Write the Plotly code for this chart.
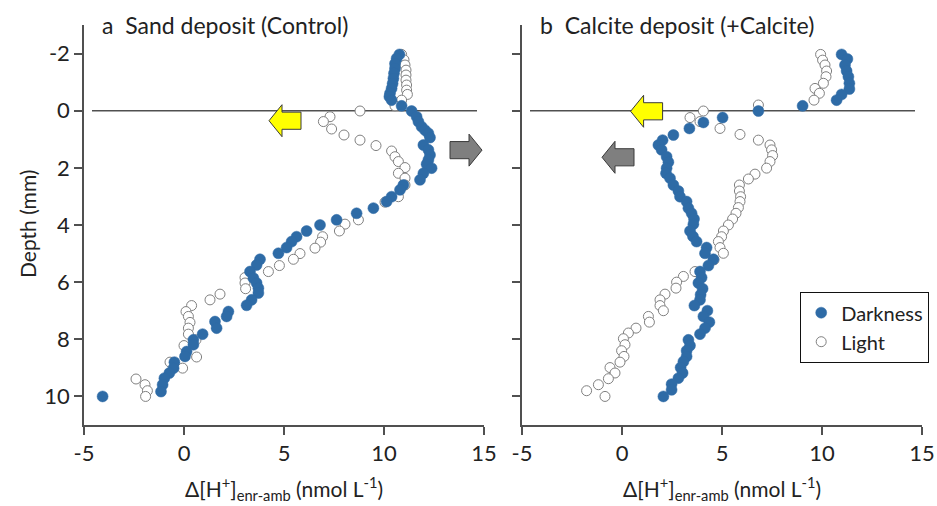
import plotly.graph_objects as go

# ---------------- data (x = Δ[H+] enr-amb, nmol/L ; depth in mm) ----------------
sand_dark_x = [10.77, 10.63, 10.55, 10.55, 10.5, 10.47, 10.43, 10.38, 10.3, 10.27, 10.38, 10.88, 11.38, 11.63,
               11.72, 11.88, 12.05, 12.22, 12.3, 11.97, 12.22, 12.3, 12.22, 12.13, 12.38, 11.97, 11.8, 10.97,
               10.8, 10.38, 10.13, 9.47, 8.63, 7.63, 6.8, 6.13, 5.63, 5.38, 5.13, 4.72, 3.8, 3.63, 3.3, 3.47,
               3.63, 3.72, 3.72, 3.38, 3.13, 2.22, 2.13, 1.55, 1.63, 0.93, 0.47, 0.47, 0.13, 0.05, -0.48,
               -0.52, -0.73, -0.98, -1.07, -1.15, -4.07]
sand_dark_d = [-1.97, -1.83, -1.65, -1.48, -1.31, -1.13, -0.95, -0.78, -0.61, -0.49, -0.37, -0.17, 0.01, 0.21,
               0.38, 0.56, 0.68, 0.79, 0.94, 1.2, 1.37, 1.55, 1.72, 1.87, 2.01, 2.19, 2.42, 2.6,
               2.77, 3.01, 3.18, 3.41, 3.59, 3.82, 4.0, 4.21, 4.41, 4.58, 4.79, 4.99, 5.2, 5.4, 5.63, 5.86,
               6.03, 6.21, 6.38, 6.62, 6.81, 7.03, 7.2, 7.38, 7.61, 7.82, 8.02, 8.19, 8.43, 8.6, 8.8,
               9.01, 9.18, 9.36, 9.59, 9.83, 10.0]

sand_light_x = [10.88, 11.0, 11.05, 11.1, 11.1, 11.1, 11.13, 11.13, 11.17, 10.88, 10.55, 8.8, 7.3, 6.97, 7.38,
                8.0, 8.8, 9.6, 10.38, 10.55, 10.72, 11.05, 10.72, 11.05, 11.05, 10.72, 10.05, 8.72, 8.05,
                7.77, 6.93, 6.83, 6.55, 5.8, 5.47, 4.77, 4.22, 3.05, 3.05, 3.08, 1.8, 1.3, 0.38, 0.1, 0.22,
                0.3, 0.22, 0.22, 0.6, 0.0, 0.63, -0.7, -0.07, -2.4, -1.95, -1.83, -1.92]
sand_light_d = [-1.97, -1.78, -1.6, -1.42, -1.25, -1.07, -0.9, -0.72, -0.57, -0.37, -0.17, 0.01, 0.21, 0.38, 0.64,
                0.85, 1.03, 1.22, 1.41, 1.61, 1.78, 1.99, 2.19, 2.36, 2.6, 3.01, 3.2, 3.82, 3.97,
                4.21, 4.41, 4.6, 4.81, 5.0, 5.2, 5.42, 5.63, 5.84, 6.03, 6.23, 6.42, 6.62, 6.82, 7.03, 7.2,
                7.41, 7.61, 7.82, 8.02, 8.22, 8.62, 8.8, 9.01, 9.39, 9.59, 9.8, 10.0]

calc_dark_x = [10.98, 11.27, 11.15, 11.23, 11.32, 11.37, 11.37, 10.98, 10.73, 9.03, 6.82, 5.03, 4.07, 3.37,
               2.57, 2.03, 1.82, 1.98, 2.23, 2.32, 2.23, 2.2, 2.4, 2.57, 2.82, 2.9, 3.23, 3.32, 3.48, 3.6,
               3.57, 3.4, 3.55, 3.73, 4.23, 4.15, 4.57, 4.32, 3.9, 3.98, 3.82, 4.03, 3.93, 3.9, 3.62, 4.27,
               4.07, 4.37, 4.15, 3.9, 3.32, 3.4, 3.23, 3.23, 3.07, 2.93, 3.03, 2.82, 2.48, 2.48, 2.07]
calc_dark_d = [-1.97, -1.81, -1.6, -1.39, -1.19, -0.96, -0.76, -0.57, -0.37, -0.17, 0.01, 0.24, 0.41, 0.62,
               0.85, 1.03, 1.2, 1.37, 1.61, 1.8, 2.01, 2.19, 2.36, 2.6, 2.81, 3.01, 3.18, 3.41, 3.59, 3.79,
               3.97, 4.21, 4.4, 4.58, 4.79, 4.99, 5.2, 5.42, 5.63, 5.84, 6.03, 6.23, 6.44, 6.62, 6.82, 7.0,
               7.2, 7.4, 7.61, 7.82, 8.02, 8.22, 8.4, 8.6, 8.78, 8.99, 9.18, 9.36, 9.57, 9.77, 10.0]

calc_light_x = [9.93, 10.03, 10.15, 10.23, 10.2, 10.07, 9.65, 9.87, 9.6, 6.82, 4.07, 3.4, 3.9, 4.9, 5.9, 6.82,
                7.4, 7.48, 7.53, 7.4, 7.23, 6.65, 6.32, 5.87, 5.87, 5.93, 5.9, 5.82, 5.7, 5.53, 5.32, 5.07,
                4.98, 4.82, 4.9, 5.07, 4.6, 3.65, 3.07, 2.73, 2.7, 2.15, 1.9, 1.9, 2.07, 1.32, 1.37, 0.7,
                0.32, 0.07, 0.15, -0.02, 0.1, -0.1, -0.6, -0.35, -0.68, -1.18, -1.77, -0.85]
calc_light_d = [-1.97, -1.77, -1.6, -1.39, -1.19, -0.96, -0.78, -0.61, -0.37, -0.2, 0.01, 0.24, 0.38, 0.62, 0.83,
                1.03, 1.2, 1.37, 1.57, 1.78, 2.01, 2.22, 2.39, 2.6, 2.81, 3.01, 3.18, 3.39, 3.59, 3.79, 4.0,
                4.21, 4.41, 4.58, 4.79, 4.99, 5.22, 5.63, 5.8, 6.0, 6.21, 6.42, 6.62, 6.82, 7.0, 7.2, 7.4,
                7.61, 7.78, 7.98, 8.19, 8.4, 8.6, 8.8, 8.99, 9.18, 9.38, 9.59, 9.8, 10.0]

x_ticks = [-5, 0, 5, 10, 15]
x_tick_labels = ["-5", "0", "5", "10", "15"]
y_ticks = [-2, 0, 2, 4, 6, 8, 10]
y_tick_labels = ["-2", "0", "2", "4", "6", "8", "10"]
panel_titles = ["a\u00a0\u00a0Sand deposit (Control)", "b\u00a0\u00a0Calcite deposit (+Calcite)"]
x_title = "\u0394[H<sup>+</sup>]<sub>enr-amb</sub> (nmol L<sup>-1</sup>)"
y_title = "Depth (mm)"

# ---------------- style / layout geometry (pixels) ----------------
FONT = "Lato"
BLUE = "#2E6BA6"
AX = "#505050"
W, H = 937, 506
L, R, T, B = 84, 15, 25, 81
PW = W - L - R  # paper width
PH = H - T - B


def px(x):
    return (x - L) / PW


def py(y):
    return (H - B - y) / PH


fig = go.Figure()

panels = [
    ("x", "y", sand_light_x, sand_light_d, sand_dark_x, sand_dark_d, True),
    ("x2", "y2", calc_light_x, calc_light_d, calc_dark_x, calc_dark_d, False),
]
for xa, ya, lx, ld, dx, dd, show in panels:
    fig.add_trace(go.Scatter(x=lx, y=ld, xaxis=xa, yaxis=ya, mode="markers", name="Light",
                             legendrank=2, showlegend=show,
                             marker=dict(size=10, color="white", line=dict(color="#808080", width=1))))
    fig.add_trace(go.Scatter(x=dx, y=dd, xaxis=xa, yaxis=ya, mode="markers", name="Darkness",
                             legendrank=1, showlegend=show,
                             marker=dict(size=11, color=BLUE, line=dict(color=BLUE, width=0.5))))

axis_common = dict(showline=True, linecolor=AX, linewidth=1.5, ticks="outside", ticklen=8,
                   tickcolor=AX, tickwidth=1.5, showgrid=False, zeroline=False,
                   tickfont=dict(family=FONT, size=22, color="#222"))

fig.update_layout(
    width=W, height=H,
    margin=dict(l=L, r=R, t=T, b=B, autoexpand=False),
    plot_bgcolor="white", paper_bgcolor="white",
    font=dict(family=FONT, color="#222"),
    xaxis=dict(domain=[px(84), px(484)], range=[-5, 15], tickvals=x_ticks, ticktext=x_tick_labels,
               anchor="y", **axis_common),
    xaxis2=dict(domain=[px(522), px(922)], range=[-5, 15], tickvals=x_ticks, ticktext=x_tick_labels,
                anchor="y2", **axis_common),
    yaxis=dict(range=[11, -3], tickvals=y_ticks, ticktext=y_tick_labels, anchor="x", **axis_common),
    yaxis2=dict(range=[11, -3], tickvals=y_ticks, anchor="x2", showticklabels=False, **axis_common),
    legend=dict(x=px(800), y=py(292), xanchor="left", yanchor="top",
                bordercolor="#111", borderwidth=1.2, bgcolor="white",
                font=dict(family=FONT, size=20, color="#222"), tracegroupgap=0),
    showlegend=True,
)

# horizontal zero-depth lines
for xr, yr in [("x", "y"), ("x2", "y2")]:
    fig.add_shape(type="line", xref=xr, yref=yr, x0=-4.6, x1=14.65, y0=0, y1=0,
                  line=dict(color=AX, width=1.5), layer="below")


def arrow_path(tip_x, yc, direction, total=1.6, head=0.65, hh=0.56, bh=0.30):
    s = -1 if direction == "left" else 1
    base = tip_x - s * head
    tail = tip_x - s * total
    pts = [(tip_x, yc), (base, yc - hh), (base, yc - bh), (tail, yc - bh),
           (tail, yc + bh), (base, yc + bh), (base, yc + hh)]
    return "M " + " L ".join(f"{x:.3f},{y:.3f}" for x, y in pts) + " Z"


arrows = [
    ("x", "y", 4.25, 0.35, "left", "#FFFF00"),
    ("x", "y", 14.9, 1.38, "right", "#7F7F7F"),
    ("x2", "y2", 0.43, 0.02, "left", "#FFFF00"),
    ("x2", "y2", -1.0, 1.63, "left", "#7F7F7F"),
]
for xr, yr, tx, yc, d, col in arrows:
    fig.add_shape(type="path", xref=xr, yref=yr, path=arrow_path(tx, yc, d),
                  fillcolor=col, line=dict(color="#3a3a3a", width=1), layer="above")

# panel titles
for t, xl in zip(panel_titles, [100, 538]):
    fig.add_annotation(text=t, xref="paper", yref="paper", x=px(xl), y=1.0,
                       xanchor="left", yanchor="middle", showarrow=False,
                       font=dict(family=FONT, size=23, color="#222"))

# axis titles
for xc in [284, 722]:
    fig.add_annotation(text=x_title, xref="paper", yref="paper", x=px(xc), y=py(489),
                       xanchor="center", yanchor="middle", showarrow=False,
                       font=dict(family=FONT, size=21, color="#222"))
fig.add_annotation(text=y_title, xref="paper", yref="paper", x=px(27), y=py(224),
                   xanchor="center", yanchor="middle", textangle=-90, showarrow=False,
                   font=dict(family=FONT, size=21, color="#222"))

fig.write_html("out.html", config={"displayModeBar": False},
               post_script="document.body.style.margin='0px';")
